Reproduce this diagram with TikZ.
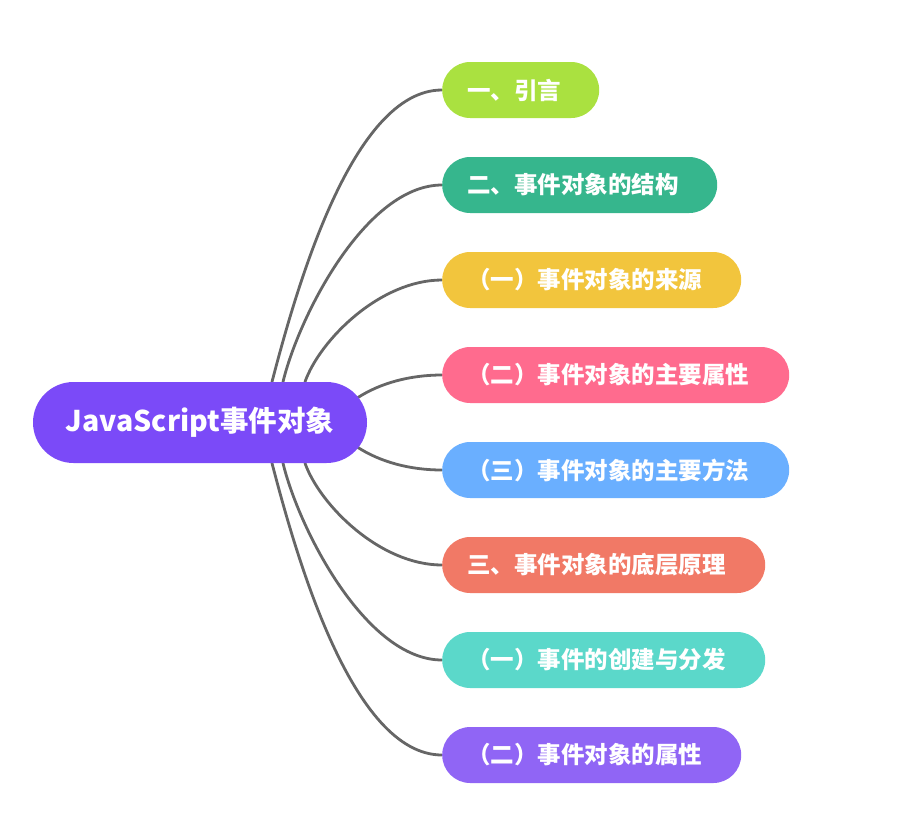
\documentclass[tikz,border=0pt]{standalone}
\usepackage{fontspec}
\setmainfont{Noto Sans CJK SC}
\usetikzlibrary{backgrounds,calc}
\definecolor{rootc}{HTML}{7B4AF8}
\definecolor{ca}{HTML}{AAE140}
\definecolor{cb}{HTML}{36B68D}
\definecolor{cc}{HTML}{F2C53D}
\definecolor{cd}{HTML}{FF6B8E}
\definecolor{ce}{HTML}{6AAFFF}
\definecolor{cf}{HTML}{F17966}
\definecolor{cg}{HTML}{5BD8CA}
\definecolor{ch}{HTML}{9065F5}
\definecolor{linec}{HTML}{666666}
\tikzset{
  rootbox/.style={fill=rootc, text=white, rounded corners=40.5pt, minimum width=334pt, minimum height=81pt, inner sep=0pt, font=\fontsize{28.5}{32}\selectfont\bfseries},
  leaf/.style={fill=#1, text=white, rounded corners=28pt, minimum height=56pt, inner xsep=25pt, inner ysep=0pt, anchor=west, align=left, font=\fontsize{23.5}{26}\selectfont\bfseries},
  conn/.style={draw=linec, line width=2.8pt, line cap=round}
}
\begin{document}
\begin{tikzpicture}[x=1pt,y=-1pt]
\useasboundingbox (0,0) rectangle (904,839);
\node[rootbox] (root) at (200,422.5) {JavaScript事件对象};
\node[leaf=ca, text width=107pt] (n1) at (442,90) {一、引言};
\node[leaf=cb, text width=225pt] (n2) at (442,185) {二、事件对象的结构};
\node[leaf=cc, text width=249pt] (n3) at (442,280) {（一）事件对象的来源};
\node[leaf=cd, text width=297pt] (n4) at (442,375) {（二）事件对象的主要属性};
\node[leaf=ce, text width=297pt] (n5) at (442,470) {（三）事件对象的主要方法};
\node[leaf=cf, text width=273pt] (n6) at (442,565) {三、事件对象的底层原理};
\node[leaf=cg, text width=273pt] (n7) at (442,660) {（一）事件的创建与分发};
\node[leaf=ch, text width=249pt] (n8) at (442,755) {（二）事件对象的属性};
\begin{scope}[on background layer]
\draw[conn] ($(root.north)+(72,0)$) .. controls +(24,-92) and +(-90,0) .. (n1.west);
\draw[conn] ($(root.north)+(83,0)$) .. controls +(16,-66) and +(-76,0) .. (n2.west);
\draw[conn] ($(root.north)+(105,0)$) .. controls +(15,-42) and +(-62,0) .. (n3.west);
\draw[conn] ($(root.east)+(-10,-24.5)$) .. controls +(23,-15) and +(-32,0) .. (n4.west);
\draw[conn] ($(root.east)+(-10,24.5)$) .. controls +(23,15) and +(-32,0) .. (n5.west);
\draw[conn] ($(root.south)+(105,0)$) .. controls +(15,42) and +(-62,0) .. (n6.west);
\draw[conn] ($(root.south)+(83,0)$) .. controls +(16,66) and +(-76,0) .. (n7.west);
\draw[conn] ($(root.south)+(72,0)$) .. controls +(24,92) and +(-90,0) .. (n8.west);
\end{scope}
\end{tikzpicture}
\end{document}
